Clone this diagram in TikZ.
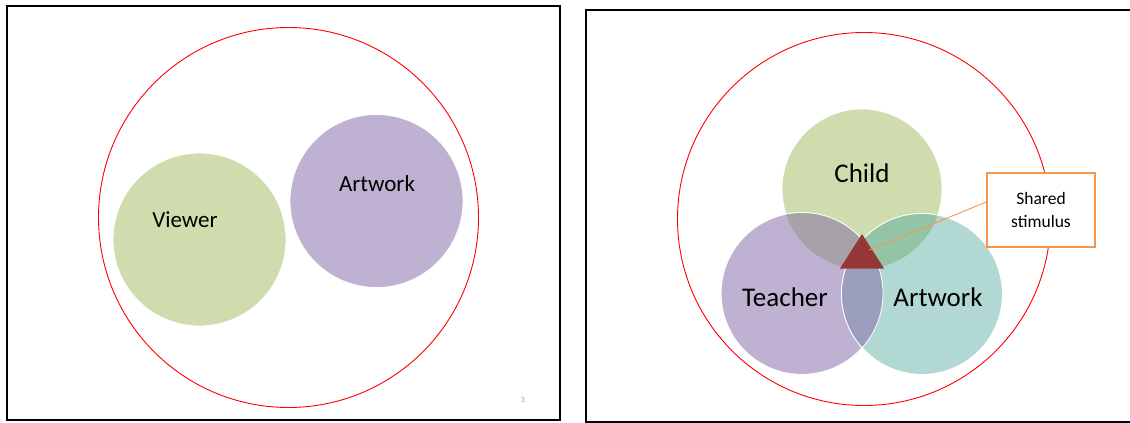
\documentclass[tikz,border=0pt]{standalone}
\usepackage{fontspec}
\setmainfont{Carlito}
\definecolor{venngreen}{RGB}{207,221,174}
\definecolor{vennpurple}{RGB}{191,177,210}
\definecolor{vennteal}{RGB}{177,216,210}
\definecolor{ovCT}{RGB}{167,161,168}
\definecolor{ovCA}{RGB}{147,196,166}
\definecolor{ovTA}{RGB}{154,158,188}
\definecolor{trired}{RGB}{149,55,53}
\definecolor{calloutorange}{RGB}{247,150,70}
\definecolor{ringred}{RGB}{255,0,0}
\tikzset{
  frame/.style={draw=black,line width=2pt},
  ring/.style={circle,draw=ringred,line width=0.9pt,inner sep=0pt},
  blob/.style={circle,draw=white,line width=0.8pt,inner sep=0pt},
  lbl/.style={inner sep=0pt,text=black},
}
\begin{document}
\begin{tikzpicture}[x=1pt,y=-1pt]
\useasboundingbox (0,0) rectangle (1130,423);
% panels
\draw[frame] (6.5,5.5) rectangle (560,419.5);
\draw[frame] (1140,9.5) -- (585.5,9.5) -- (585.5,421.5) -- (1140,421.5);
% ---- left panel
\node[ring,minimum size=380pt] (ringL) at (288.5,217.5) {};
\node[blob,fill=venngreen,minimum size=173pt] (viewer) at (199.5,239.5) {};
\node[blob,fill=vennpurple,minimum size=173pt] (artL) at (376.5,201) {};
\node[lbl,font=\fontsize{23}{26}\selectfont] (viewerT) at (185,220) {Viewer};
\node[lbl,font=\fontsize{23}{26}\selectfont] (artLT) at (377,184) {Artwork};
\node[lbl,text=gray!80,font=\fontsize{8}{9}\selectfont] (pagenum) at (523,400) {3};
% ---- right panel
\node[ring,minimum size=373pt] (ringR) at (864,219) {};
\node[blob,fill=venngreen,minimum size=160pt] (child) at (862,189) {};
\node[blob,fill=vennpurple,minimum size=162pt] (teacher) at (802,293.5) {};
\node[blob,fill=vennteal,minimum size=161pt] (art) at (922,294) {};
\begin{scope}
  \clip (child.center) circle[radius=80pt];
  \fill[ovCT] (teacher.center) circle[radius=81pt];
  \fill[ovCA] (art.center) circle[radius=80.5pt];
\end{scope}
\begin{scope}
  \clip (teacher.center) circle[radius=81pt];
  \fill[ovTA] (art.center) circle[radius=80.5pt];
\end{scope}
\draw[white,line width=0.8pt] (teacher.center) circle[radius=81pt];
\draw[white,line width=0.8pt] (art.center) circle[radius=80.5pt];
\coordinate (triA) at (840,268.5);
\coordinate (triB) at (884,268.5);
\coordinate (triC) at (862,234);
\fill[trired] (triA) -- (triB) -- (triC) -- cycle;
\node[lbl,font=\fontsize{27}{30}\selectfont] (childT) at (862,173) {Child};
\node[lbl,font=\fontsize{27}{30}\selectfont] (teacherT) at (785,297) {Teacher};
\node[lbl,font=\fontsize{27}{30}\selectfont] (artT) at (938,297) {Artwork};
% callout
\node[draw=calloutorange,line width=1.3pt,fill=white,minimum width=108pt,minimum height=74pt,
      align=center,font=\fontsize{17.5}{23}\selectfont,inner sep=0pt] (callout) at (1041,210) {Shared\\stimulus};
\coordinate (tip) at (869,250);
\draw[calloutorange,line width=0.9pt] ([yshift=8pt]callout.west) -- (tip);
\end{tikzpicture}
\end{document}
